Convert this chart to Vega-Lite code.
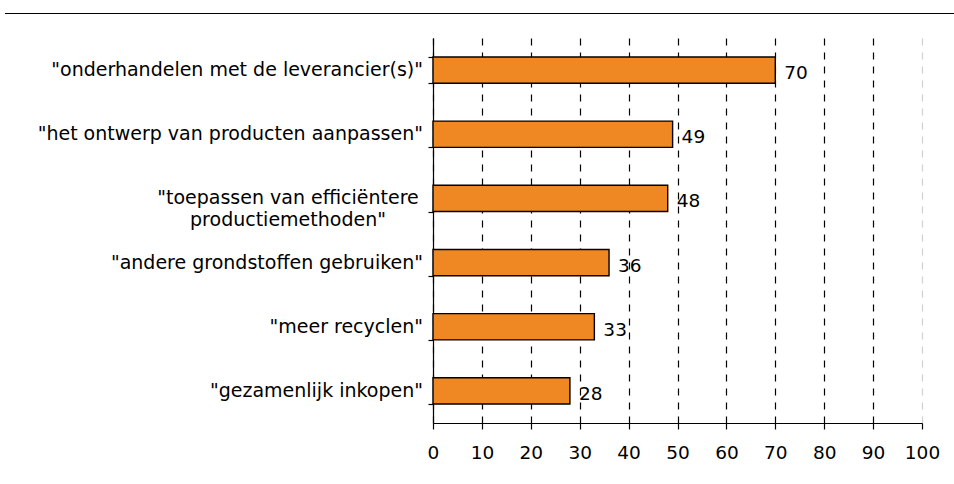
{
  "$schema": "https://vega.github.io/schema/vega-lite/v6.json",
  "padding": {"left": 5, "top": 13, "right": 0, "bottom": 0},
  "config": {"view": {"stroke": null}, "font": "DejaVu Sans"},
  "data": {"values": [
    {"label": "\"onderhandelen met de leverancier(s)\"", "v": 70},
    {"label": "\"het ontwerp van producten aanpassen\"", "v": 49},
    {"label": "\"toepassen van efficiëntere\nproductiemethoden\"", "v": 48},
    {"label": "\"andere grondstoffen gebruiken\"", "v": 36},
    {"label": "\"meer recyclen\"", "v": 33},
    {"label": "\"gezamenlijk inkopen\"", "v": 28}
  ]},
  "spacing": 24,
  "vconcat": [
    {
      "width": 949,
      "height": 1,
      "view": {"stroke": null, "fill": "black"},
      "mark": {"type": "point", "opacity": 0, "size": 0, "strokeWidth": 0},
      "encoding": {}
    },
    {
      "spacing": 4,
      "hconcat": [
        {
          "width": 418,
          "height": 385,
          "mark": {
            "type": "text", "baseline": "middle", "lineBreak": "\n", "lineHeight": 22,
            "align": {"expr": "indexof(datum.label, '\\n') >= 0 ? 'center' : 'right'"},
            "dx": {"expr": "indexof(datum.label, '\\n') >= 0 ? -135 : 0"},
            "font": "DejaVu Sans", "fontSize": 19, "color": "black"
          },
          "encoding": {
            "x": {"value": "width"},
            "y": {"field": "label", "type": "nominal", "sort": null, "scale": {"paddingInner": 0.59, "paddingOuter": 0.295}, "axis": null},
            "text": {"field": "label"}
          }
        },
        {
          "width": 489,
          "height": 385,
          "encoding": {
            "x": {
              "field": "v", "type": "quantitative",
              "scale": {"domain": [0, 100], "nice": false},
              "axis": {
                "values": [0, 10, 20, 30, 40, 50, 60, 70, 80, 90, 100],
                "title": null,
                "domainColor": "black", "domainWidth": 1.2,
                "tickColor": "black", "tickSize": 6, "tickWidth": 1.2,
                "labelFont": "DejaVu Sans", "labelFontSize": 18.5, "labelColor": "black",
                "labelPadding": 14, "labelFlush": false, "labelOverlap": false,
                "grid": true, "gridDash": [7, 7], "gridWidth": 1.2,
                "gridColor": {"condition": {"test": "datum.value == 100", "value": "#d0d0d0"}, "value": "black"}
              }
            },
            "y": {
              "field": "label", "type": "nominal", "sort": null,
              "scale": {"paddingInner": 0.59, "paddingOuter": 0.295},
              "axis": {
                "title": null, "labels": false, "tickBand": "extent",
                "tickSize": 5, "tickColor": "black", "tickWidth": 1.2,
                "domainColor": "black", "domainWidth": 1.2, "grid": false
              }
            }
          },
          "layer": [
            {"mark": {"type": "bar", "color": "#EF8822", "stroke": "black", "strokeWidth": 1.4}},
            {
              "mark": {"type": "text", "align": "left", "baseline": "middle", "dx": 9, "dy": 3, "font": "DejaVu Sans", "fontSize": 18.5, "color": "black"},
              "encoding": {"text": {"field": "v", "type": "quantitative"}}
            }
          ]
        }
      ]
    }
  ]
}
